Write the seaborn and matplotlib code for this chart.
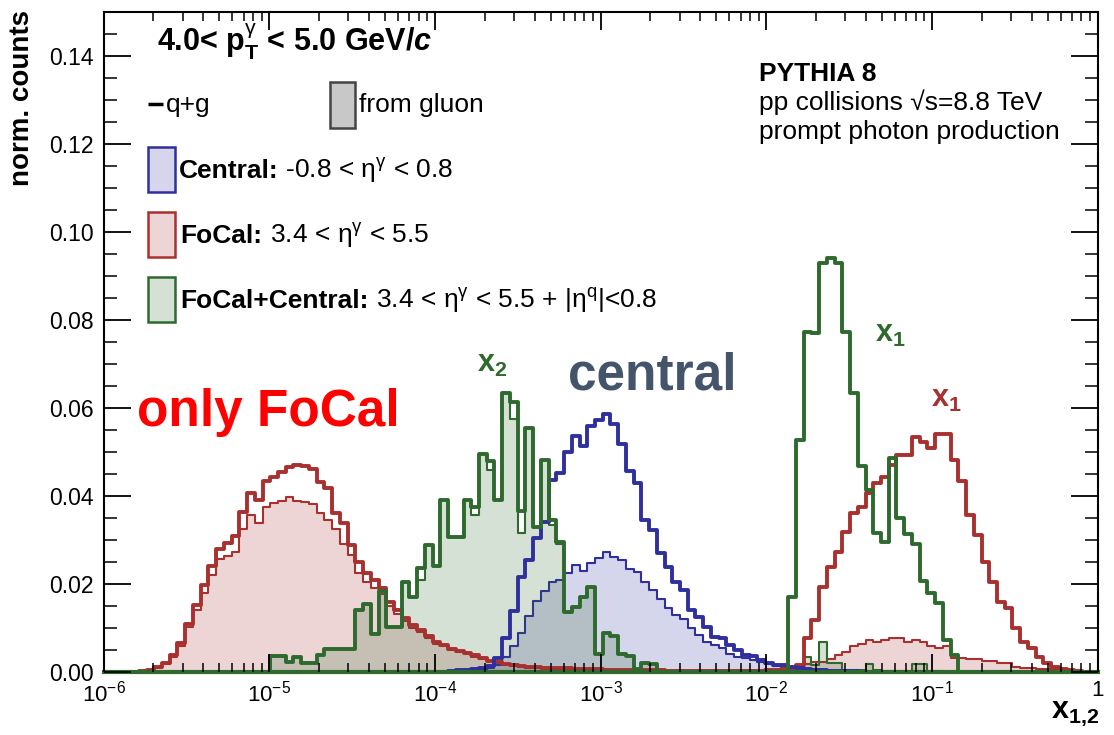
import numpy as np
import matplotlib
matplotlib.use("Agg")
import matplotlib.pyplot as plt
from matplotlib.patches import Rectangle
from matplotlib.ticker import (FixedLocator, FixedFormatter, LogLocator,
                               NullFormatter, MultipleLocator)
import seaborn as sns

# ---------------- binning (log10 space): 150 bins from 1e-7 to 1 ----------------
LOG_X_MIN, LOG_X_MAX, N_BINS = -7.0, 0.0, 150

# ---------------- FoCal (3.4 < eta < 5.5): all (q+g), first bin index 26 ----------------
focal_all_start = 26
focal_all = [
    0.0002, 0.0005, 0.0011, 0.0020, 0.0039, 0.0067, 0.0109, 0.0152, 0.0198, 0.0241,
    0.0279, 0.0294, 0.0308, 0.0364, 0.0406, 0.0391, 0.0435, 0.0444, 0.0455, 0.0465,
    0.0470, 0.0468, 0.0461, 0.0432, 0.0418, 0.0361, 0.0338, 0.0289, 0.0251, 0.0224,
    0.0209, 0.0190, 0.0160, 0.0141, 0.0122, 0.0107, 0.0095, 0.0082, 0.0068, 0.0062,
    0.0053, 0.0048, 0.0043, 0.0038, 0.0031, 0.0026, 0.0023, 0.0019, 0.0016, 0.0014,
    0.0012, 0.0011, 0.0010, 0.0009, 0.0008, 0.0008, 0.0007, 0.0007, 0.0006, 0.0006,
    0.0005, 0.0005, 0.0005, 0.0004, 0.0004, 0.0004, 0.0004, 0.0004, 0.0003, 0.0003,
    0.0003, 0.0003, 0.0003, 0.0003, 0.0003, 0.0003, 0.0003, 0.0003, 0.0003, 0.0003,
    0.0003, 0.0004, 0.0005, 0.0006, 0.0009, 0.0016, 0.0077, 0.0118, 0.0194, 0.0239,
    0.0273, 0.0319, 0.0361, 0.0376, 0.0406, 0.0429, 0.0444, 0.0470, 0.0493, 0.0493,
    0.0535, 0.0523, 0.0508, 0.0542, 0.0542, 0.0482, 0.0433, 0.0357, 0.0311, 0.0251,
    0.0205, 0.0160, 0.0145, 0.0099, 0.0069, 0.0054, 0.0035, 0.0020, 0.0011, 0.0006,
    0.0005, 0.0002,
]
# FoCal: from gluon
focal_gluon_start = 26
focal_gluon = [
    0.0002, 0.0004, 0.0010, 0.0018, 0.0035, 0.0060, 0.0103, 0.0142, 0.0180, 0.0220,
    0.0256, 0.0264, 0.0273, 0.0324, 0.0357, 0.0339, 0.0376, 0.0383, 0.0389, 0.0397,
    0.0389, 0.0387, 0.0382, 0.0361, 0.0345, 0.0325, 0.0290, 0.0265, 0.0225, 0.0205,
    0.0190, 0.0178, 0.0150, 0.0132, 0.0115, 0.0101, 0.0090, 0.0078, 0.0064, 0.0058,
    0.0050, 0.0045, 0.0040, 0.0035, 0.0029, 0.0024, 0.0021, 0.0017, 0.0014, 0.0012,
    0.0010, 0.0009, 0.0008, 0.0007, 0.0006, 0.0006, 0.0005, 0.0005, 0.0004, 0.0004,
    0.0003, 0.0003, 0.0003, 0.0003, 0.0003, 0.0003, 0.0003, 0.0002, 0.0002, 0.0002,
    0.0002, 0.0002, 0.0002, 0.0002, 0.0002, 0.0002, 0.0002, 0.0002, 0.0002, 0.0002,
    0.0002, 0.0002, 0.0002, 0.0003, 0.0005, 0.0010, 0.0018, 0.0023, 0.0023, 0.0030,
    0.0039, 0.0045, 0.0058, 0.0063, 0.0072, 0.0069, 0.0073, 0.0077, 0.0077, 0.0069,
    0.0073, 0.0069, 0.0058, 0.0054, 0.0058, 0.0031, 0.0031, 0.0029, 0.0029, 0.0026,
    0.0026, 0.0021, 0.0021, 0.0012, 0.0009, 0.0009, 0.0006, 0.0006, 0.0006, 0.0006,
    0.0004, 0.0002,
]

# ---------------- Central (-0.8 < eta < 0.8) ----------------
central_all_start = 66
central_all = [
    0.0003, 0.0004, 0.0005, 0.0006, 0.0008, 0.0013, 0.0031, 0.0077, 0.0138, 0.0215,
    0.0255, 0.0305, 0.0340, 0.0436, 0.0452, 0.0501, 0.0537, 0.0514, 0.0560, 0.0572,
    0.0586, 0.0563, 0.0518, 0.0457, 0.0429, 0.0345, 0.0323, 0.0270, 0.0239, 0.0205,
    0.0186, 0.0141, 0.0126, 0.0103, 0.0080, 0.0077, 0.0061, 0.0050, 0.0039, 0.0036,
    0.0027, 0.0020, 0.0016, 0.0015, 0.0012, 0.0010, 0.0007, 0.0005, 0.0004, 0.0003,
    0.0003, 0.0002, 0.0002,
]
central_gluon_start = 66
central_gluon = [
    0.0002, 0.0003, 0.0004, 0.0004, 0.0005, 0.0008, 0.0016, 0.0035, 0.0058, 0.0088,
    0.0128, 0.0162, 0.0185, 0.0205, 0.0208, 0.0224, 0.0243, 0.0230, 0.0247, 0.0258,
    0.0273, 0.0262, 0.0254, 0.0235, 0.0228, 0.0205, 0.0186, 0.0167, 0.0146, 0.0130,
    0.0120, 0.0100, 0.0085, 0.0069, 0.0061, 0.0054, 0.0042, 0.0035, 0.0031, 0.0027,
    0.0023, 0.0018, 0.0014, 0.0012, 0.0010, 0.0008, 0.0005, 0.0004, 0.0003, 0.0002,
    0.0002, 0.0001, 0.0001,
]

# ---------------- FoCal+Central: x2 part and x1 part ----------------
fc_all_x2_start = 43
fc_all_x2 = [
    0.0036, 0.0036, 0.0023, 0.0035, 0.0021, 0.0021, 0.0039, 0.0052, 0.0052, 0.0052,
    0.0052, 0.0140, 0.0155, 0.0086, 0.0184, 0.0103, 0.0103, 0.0205, 0.0171, 0.0236,
    0.0288, 0.0241, 0.0390, 0.0307, 0.0307, 0.0391, 0.0374, 0.0496, 0.0480, 0.0391,
    0.0633, 0.0614, 0.0366, 0.0554, 0.0330, 0.0482, 0.0345, 0.0296, 0.0137, 0.0148,
    0.0171, 0.0194, 0.0040, 0.0088, 0.0082, 0.0040, 0.0037, 0.0006, 0.0021, 0.0019,
]
fc_gluon_x2_start = 43
fc_gluon_x2 = [
    0.0036, 0.0036, 0.0023, 0.0035, 0.0021, 0.0021, 0.0039, 0.0052, 0.0052, 0.0052,
    0.0052, 0.0140, 0.0155, 0.0086, 0.0184, 0.0103, 0.0103, 0.0205, 0.0171, 0.0209,
    0.0288, 0.0241, 0.0390, 0.0307, 0.0307, 0.0391, 0.0357, 0.0496, 0.0460, 0.0391,
    0.0633, 0.0576, 0.0315, 0.0554, 0.0330, 0.0482, 0.0335, 0.0290, 0.0137, 0.0148,
    0.0171, 0.0194, 0.0040, 0.0088, 0.0082, 0.0040, 0.0037, 0.0006, 0.0021, 0.0019,
]
fc_all_x1_start = 110
fc_all_x1 = [
    0.0171, 0.0527, 0.0773, 0.0770, 0.0929, 0.0942, 0.0929, 0.0773, 0.0633, 0.0469,
    0.0414, 0.0315, 0.0296, 0.0486, 0.0349, 0.0313, 0.0292, 0.0207, 0.0179, 0.0156,
    0.0073, 0.0039,
]
fc_gluon_x1_start = 110
fc_gluon_x1 = [
    0.0003, 0.0010, 0.0035, 0.0016, 0.0069, 0.0020, 0.0020, 0.0005, 0.0005, 0.0005,
    0.0018, 0.0005, 0.0003, 0.0003, 0.0003, 0.0003, 0.0018, 0.0018, 0.0003, 0.0003,
    0.0000, 0.0000,
]

# ---------------- axis ticks ----------------
x_tick_values = [1e-6, 1e-5, 1e-4, 1e-3, 1e-2, 1e-1, 1.0]
x_tick_labels = [r"$\mathdefault{10^{-6}}$", r"$\mathdefault{10^{-5}}$",
                 r"$\mathdefault{10^{-4}}$", r"$\mathdefault{10^{-3}}$",
                 r"$\mathdefault{10^{-2}}$", r"$\mathdefault{10^{-1}}$", "1"]
y_tick_values = [0.00, 0.02, 0.04, 0.06, 0.08, 0.10, 0.12, 0.14]
y_tick_labels = ["0.00", "0.02", "0.04", "0.06", "0.08", "0.10", "0.12", "0.14"]

RED = "#a8302f"
BLUE = "#2f2f9e"
GREEN = "#2e6a2e"

# ---------------- style ----------------
sns.set_theme(style="ticks")
plt.rcParams["font.family"] = ["Liberation Sans", "DejaVu Sans"]
plt.rcParams["text.color"] = "black"
plt.rcParams["axes.labelcolor"] = "black"
plt.rcParams["xtick.color"] = "black"
plt.rcParams["ytick.color"] = "black"
plt.rcParams["mathtext.fontset"] = "custom"
plt.rcParams["mathtext.rm"] = "Liberation Sans"
plt.rcParams["mathtext.it"] = "Liberation Sans:italic:bold"
plt.rcParams["mathtext.bf"] = "Liberation Sans:bold"
plt.rcParams["mathtext.sf"] = "Liberation Sans"

fig = plt.figure(figsize=(11.14, 7.35), dpi=100)
ax = fig.add_axes([103.5 / 1114, 63 / 735, 994 / 1114, 660 / 735])


def full(start, vals):
    arr = np.zeros(N_BINS)
    arr[start:start + len(vals)] = vals
    return arr


log_edges = np.linspace(LOG_X_MIN, LOG_X_MAX, N_BINS + 1)
bin_list = [float(b) for b in log_edges]
centers = 10 ** ((log_edges[:-1] + log_edges[1:]) / 2)

series_fill = [
    (full(focal_gluon_start, focal_gluon), RED),
    (full(central_gluon_start, central_gluon), BLUE),
    (full(fc_gluon_x2_start, fc_gluon_x2) + full(fc_gluon_x1_start, fc_gluon_x1), GREEN),
]
series_line = [
    (full(focal_all_start, focal_all), RED),
    (full(central_all_start, central_all), BLUE),
    (full(fc_all_x2_start, fc_all_x2) + full(fc_all_x1_start, fc_all_x1), GREEN),
]

for vals, col in series_fill:
    sns.histplot(x=centers, weights=vals, bins=bin_list, log_scale=True,
                 element="step", fill=True, alpha=0.2, color=col,
                 linewidth=1.5, ax=ax)
for vals, col in series_line:
    sns.histplot(x=centers, weights=vals, bins=bin_list, log_scale=True,
                 element="step", fill=False, color=col, linewidth=2.8, ax=ax)

ax.set_xscale("log")
ax.set_xlim(1e-6, 1.0)
ax.set_ylim(0, 0.15)
ax.set_xlabel("")
ax.set_ylabel("")

ax.xaxis.set_major_locator(FixedLocator(x_tick_values))
ax.xaxis.set_major_formatter(FixedFormatter(x_tick_labels))
ax.xaxis.set_minor_locator(LogLocator(base=10, subs=np.arange(2, 10) * 1.0, numticks=100))
ax.xaxis.set_minor_formatter(NullFormatter())
ax.yaxis.set_major_locator(FixedLocator(y_tick_values))
ax.yaxis.set_major_formatter(FixedFormatter(y_tick_labels))
ax.yaxis.set_minor_locator(MultipleLocator(0.005))

ax.set_axisbelow(False)
ax.tick_params(which="both", direction="in", top=True, right=True,
               colors="black", labelcolor="black")
ax.tick_params(axis="x", which="major", length=13, width=1.3, labelsize=16, pad=6)
ax.tick_params(axis="x", which="minor", length=6.5, width=1.1)
ax.tick_params(axis="y", which="major", length=19.5, width=1.3, labelsize=16.5, pad=7)
ax.tick_params(axis="y", which="minor", length=9.5, width=1.1)
for side in ["left", "right", "top"]:
    ax.spines[side].set_color("black")
    ax.spines[side].set_linewidth(1.5)
ax.spines["bottom"].set_color(GREEN)
ax.spines["bottom"].set_linewidth(3)
ax.grid(False)

T = ax.transAxes
renderer = fig.canvas.get_renderer()


def two_part(x, y, bold, rest, size=19):
    t1 = ax.text(x, y, bold, transform=T, fontsize=size, fontweight="bold",
                 ha="left", va="baseline", color="black")
    bb = t1.get_window_extent(renderer=renderer)
    x2 = T.inverted().transform((bb.x1, bb.y0))[0]
    ax.text(x2, y, rest, transform=T, fontsize=size, ha="left", va="baseline",
            color="black")


# title
ax.text(0.0538, 0.9394, r"4.0< p$_{\mathdefault{T}}^{\mathrm{\gamma}}$ < 5.0 GeV/$\mathit{c}$",
        transform=T, fontsize=22, fontweight="bold", ha="left", va="baseline")

# legend: q+g / from gluon
ax.plot([0.0443, 0.0594], [0.8606, 0.8606], transform=T, color="black", lw=2.5,
        clip_on=False, solid_capstyle="butt")
ax.text(0.0625, 0.8485, "q+g", transform=T, fontsize=19, ha="left", va="baseline")
ax.add_patch(Rectangle((0.2279, 0.8242), 0.0252, 0.0697, transform=T,
                       facecolor="#c8c8c8", edgecolor="#444444", lw=1.8))
ax.text(0.2570, 0.8485, "from gluon", transform=T, fontsize=19, ha="left", va="baseline")

# legend: selections
box_w, box_h, box_x = 0.0272, 0.0682, 0.0448
for y0, col in [(0.7273, BLUE), (0.6288, RED), (0.5303, GREEN)]:
    ax.add_patch(Rectangle((box_x, y0), box_w, box_h, transform=T,
                           facecolor=matplotlib.colors.to_rgba(col, 0.2),
                           edgecolor=col, lw=1.8))
two_part(0.0755, 0.7485, "Central:", r" -0.8 < η$^{\mathrm{\gamma}}$ < 0.8")
two_part(0.0775, 0.6500, "FoCal:", r" 3.4 < η$^{\mathrm{\gamma}}$ < 5.5")
two_part(0.0775, 0.5515, "FoCal+Central:",
         r" 3.4 < η$^{\mathrm{\gamma}}$ < 5.5 + |η$^{\mathrm{q}}$|<0.8")

# right-hand info
ax.text(0.6594, 0.896, "PYTHIA 8", transform=T, fontsize=19, fontweight="bold",
        ha="left", va="baseline")
ax.text(0.6594, 0.852, "pp collisions √s=8.8 TeV", transform=T,
        fontsize=19, ha="left", va="baseline")
ax.text(0.6594, 0.808, "prompt photon production", transform=T, fontsize=19,
        ha="left", va="baseline")

# annotations
ax.text(0.0337, 0.3727, "only FoCal", transform=T, fontsize=37, fontweight="bold",
        color="#ff0000", ha="left", va="baseline")
ax.text(0.467, 0.4273, "central", transform=T, fontsize=37, fontweight="bold",
        color="#44546a", ha="left", va="baseline")
ax.text(0.3757, 0.4545, r"x$_{\mathdefault{2}}$", transform=T, fontsize=22,
        fontweight="bold", color=GREEN, ha="left", va="baseline")
ax.text(0.776, 0.500, r"x$_{\mathdefault{1}}$", transform=T, fontsize=22,
        fontweight="bold", color=GREEN, ha="left", va="baseline")
ax.text(0.8325, 0.4015, r"x$_{\mathdefault{1}}$", transform=T, fontsize=22,
        fontweight="bold", color=RED, ha="left", va="baseline")

# axis titles
ax.text(-0.082, 1.003, "norm. counts", transform=T, fontsize=20, fontweight="bold",
        rotation=90, ha="center", va="top")
ax.text(1.0015, -0.070, r"x$_{\mathdefault{1{,}2}}$", transform=T, fontsize=22,
        fontweight="bold", ha="right", va="baseline")

fig.savefig("out.png", dpi=100)
